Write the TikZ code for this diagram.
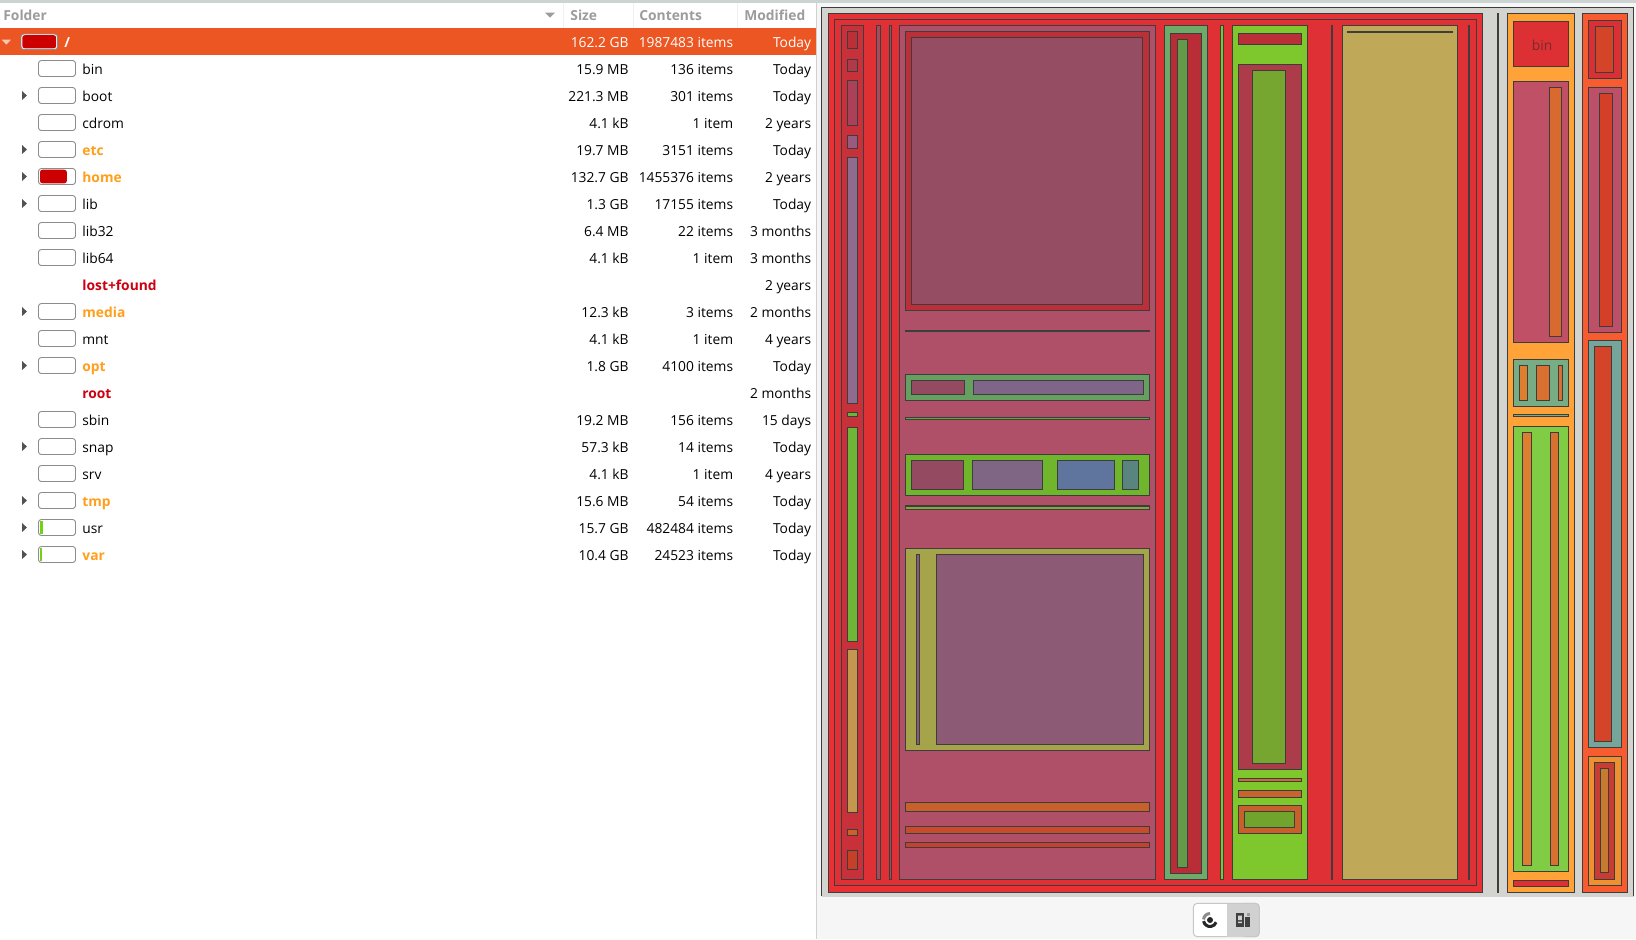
\documentclass[tikz,border=0pt]{standalone}
\usepackage{fontspec}
\setmainfont{Open Sans}
\usetikzlibrary{calc,positioning}
\definecolor{rulegray}{HTML}{3D3D3D}
\definecolor{headgray}{HTML}{9C9C9C}
\definecolor{rowsel}{HTML}{EB5623}
\definecolor{warnorange}{HTML}{FF9F1C}
\definecolor{denyred}{HTML}{CC0010}
\definecolor{barred}{HTML}{CC0000}
\definecolor{bargreen}{HTML}{73D216}
\definecolor{mapback}{HTML}{D3D4CF}
\definecolor{topedge}{HTML}{CBD3D3}
\begin{document}
\begin{tikzpicture}[x=0.5pt,y=-0.5pt,line join=miter,
 cell/.style={draw=rulegray,line width=0.55pt},
 barframe/.style={draw=gray!90,line width=0.45pt,fill=white,rounded corners=1.4pt},
 collabel/.style={anchor=base west,inner sep=0pt,text=headgray,font=\fontsize{6.9}{8}\selectfont\bfseries},
 fname/.style={anchor=base west,inner sep=0pt,font=\fontsize{6.9}{8}\selectfont},
 fwarn/.style={fname,text=warnorange,font=\fontsize{6.9}{8}\selectfont\bfseries},
 fdeny/.style={fname,text=denyred,font=\fontsize{6.9}{8}\selectfont\bfseries},
 fstat/.style={anchor=base east,inner sep=0pt,font=\fontsize{6.9}{8}\selectfont}]
\useasboundingbox (0,0) rectangle (1636,939);
\fill[white] (0,0) rectangle (817,939);
\fill[black!3.5] (817,0) rectangle (1636,939);
\fill[black!18] (817,0) -- (817,939) -- (816,939) -- (816,0) -- cycle;
\fill[topedge] (0,0) rectangle (1636,2.5);
\foreach \i in {563,633,737}{\draw[black!6,line width=0.5pt] (\i,3) -- (\i,28);}
\node[collabel] (headfolder) at (3,20) {Folder};
\node[collabel] (headsize) at (570,20) {Size};
\node[collabel] (headitems) at (639,20) {Contents};
\node[collabel] (headdate) at (744,20) {Modified};
\fill[headgray] (545,12.7) -- (555,12.7) -- (550,17.5) -- cycle;
\fill[rowsel] (0,28) rectangle (816,55);
\fill[white!65!rowsel] (1.7,39.7) -- (11,39.7) -- (6.3,44.6) -- cycle;
\draw[barframe] (21,34) rectangle (57.5,49.5);
\fill[barred,rounded corners=1.2pt] (22.3,35.2) rectangle (56.2,48.3);
\node[fwarn,text=white] (name0) at (64,47) {/};
\node[fstat,text=white] (size0) at (629,47) {162.2 GB};
\node[fstat,text=white] (items0) at (733.5,47) {1987483 items};
\node[fstat,text=white] (date0) at (811.5,47) {Today};
\foreach \i in {1,2,3,4,5,6,7,8,10,11,12,14,15,16,17,18,19}{\draw[barframe] (38.5,{33.5+27*\i}) rectangle (75.5,{49.5+27*\i});}
\foreach \i in {2,4,5,6,10,12,15,17,18,19}{\fill[black!68] (22,{36.8+27*\i}) -- (26.8,{41.5+27*\i}) -- (22,{46.2+27*\i}) -- cycle;}
\fill[barred,rounded corners=1.2pt] (40,{34.7+135}) rectangle (66.8,{48.3+135});
\fill[bargreen] (39.9,{34.9+27*18}) rectangle (43,{48.1+27*18});
\fill[bargreen] (39.9,{34.9+27*19}) rectangle (41.8,{48.1+27*19});
\foreach \i/\nm in {1/bin,2/boot,3/cdrom,6/lib,7/lib32,8/lib64,11/mnt,14/sbin,15/snap,16/srv,18/usr}{\node[fname] (name\i) at (82,{47+27*\i}) {\nm};}
\foreach \i/\nm in {4/etc,5/home,10/media,12/opt,17/tmp,19/var}{\node[fwarn] (name\i) at (82,{47+27*\i}) {\nm};}
\foreach \i/\nm in {9/lost+found,13/root}{\node[fdeny] (name\i) at (82,{47+27*\i}) {\nm};}
\foreach \i/\sz/\it/\md in {1/15.9 MB/136 items/Today,2/221.3 MB/301 items/Today,3/4.1 kB/1 item/2 years,4/19.7 MB/3151 items/Today,5/132.7 GB/1455376 items/2 years,6/1.3 GB/17155 items/Today,7/6.4 MB/22 items/3 months,8/4.1 kB/1 item/3 months,9///2 years,10/12.3 kB/3 items/2 months,11/4.1 kB/1 item/4 years,12/1.8 GB/4100 items/Today,13///2 months,14/19.2 MB/156 items/15 days,15/57.3 kB/14 items/Today,16/4.1 kB/1 item/4 years,17/15.6 MB/54 items/Today,18/15.7 GB/482484 items/Today,19/10.4 GB/24523 items/Today}{
\node[fstat] (size\i) at (629,{47+27*\i}) {\sz};
\node[fstat] (items\i) at (733.5,{47+27*\i}) {\it};
\node[fstat] (date\i) at (811.5,{47+27*\i}) {\md};}
\fill[mapback] (821.5,7.5) rectangle (1633.5,896.7);
\draw[rulegray,line width=0.55pt] (821.5,896) -- (821.5,7.5) -- (1633.5,7.5) -- (1633.5,896);
\foreach \xa/\ya/\xb/\yb/\col in {
828.3/13.3/1482.7/892.7/E93035,834.3/19.3/1476.7/885.3/DE3035,
841.3/25.3/863.7/879.3/C8303A,847.3/31.3/857.7/48.3/BA2F38,847.3/59.3/857.7/71.7/B0394A,847.3/80.3/857.7/125.7/AC4058,847.3/135.3/857.7/148.7/985A7E,847.3/157.3/857.7/403.3/8F6B8F,847.3/412.3/857.7/416.3/6DB334,847.3/427.3/857.7/641.3/6FB538,847.3/649.3/857.7/812.3/C4964E,847.3/829.3/857.7/835.7/CE5F2A,847.3/850.3/857.7/869.3/C63F26,
876.3/25.3/880.7/879.3/A84A5C,889.3/25.3/891.7/879.3/A84A5C,
899.3/25.3/1155.7/879.3/B05068,905.3/31.3/1149.7/310.7/BA2F38,911.3/37.3/1142.7/304.3/944D62,
905.3/330.4/1149.7/331.6/3D3D3D,
905.3/374.3/1149.7/400.7/66A060,911.3/380.3/964.7/394.7/944A60,973.3/380.3/1143.7/394.7/7F6688,
905.3/417.3/1149.7/419.7/60A83A,
905.3/454.3/1149.7/495.3/70B62C,911.3/460.3/963.7/489.7/944A60,972.3/460.3/1042.7/489.7/806685,1057.3/460.3/1114.7/489.7/60759E,1122.3/460.3/1138.7/489.7/5A8480,
905.3/506/1149.7/509.7/80A83A,
905.3/548.3/1149.7/750.7/A5A44A,916.3/554.3/919.7/744.7/8A5A78,936.3/554.3/1143.7/744.7/8C5A75,
905.3/802.3/1149.7/811.3/C8602C,905.3/826.3/1149.7/833.7/C84C2C,905.3/842.3/1149.7/847.3/C83F2C,
1164.3/25.3/1207.7/879.3/6EAA68,1170.3/33.3/1201.7/873.7/B82D36,1177.3/39.3/1187.7/867.3/65994A,
1220.3/25.3/1223.7/879.3/7CC830,
1232.3/25.3/1307.7/879.3/7EC82E,1238.3/33.3/1301.7/44.3/BA2F38,1238.3/64.3/1301.7/769.3/AC3C4A,1252.3/70.3/1285.7/763.3/76A630,1238.3/778.3/1301.7/781.7/C8702C,1238.3/790.3/1301.7/797.7/C8642C,1238.3/805.3/1301.7/833.3/C8602C,1244.3/811.3/1294.7/827.3/70A42C,
1331.2/25.3/1332.8/879.3/3D3D3D,
1342.3/25.3/1457.7/879.3/BFA858,1348/31.4/1452/32.6/3D3D3D,
1468.2/25.3/1469.8/879.3/3D3D3D,
1497.4/13.3/1498.6/892.7/3D3D3D,
1507.3/13.3/1574.7/892.7/FFA238,1513.3/21.3/1568.7/66.7/DD3035,1513.3/81.3/1568.7/342.3/C05065,1549.3/87.3/1561.7/336.7/D86A30,
1513.3/359.3/1568.7/406.7/78AC84,1519.3/365.3/1527.7/400.3/DC8030,1536.3/365.3/1549.7/400.3/D87030,1558.3/365.3/1562.7/400.3/D87030,
1513.3/414.3/1568.7/416.7/78AC84,
1513.3/426.3/1568.7/871.3/80CC44,1522.3/432.3/1531.7/865.7/DC8030,1550.3/432.3/1558.7/865.7/D87030,1513.3/880.3/1568.7/886.3/DD3035,
1582.3/13.3/1627.7/892.7/F75C30,1588.3/20.3/1621.7/78.7/D83035,1595.3/26.3/1613.7/72.3/D44428,1588.3/87.3/1621.7/332.3/BC5068,1599.3/93.3/1612.7/326.3/D43F28,
1588.3/340.3/1621.7/747.3/76A69A,1594.3/346.3/1611.7/741.7/D44428,1588.3/756.3/1621.7/885.3/EC9030,1594.3/762.3/1614.7/879.3/C83C34,1600.3/768.3/1608.7/872.3/C87A2E}{
\definecolor{cc}{HTML}{\col}
\draw[cell,fill=cc] (\xa,\ya) rectangle (\xb,\yb);}
\node[fname,text=rulegray!70!red,anchor=center] (binlabel) at (1542,45) {bin};
\filldraw[draw=black!22,fill=white,line width=0.5pt,rounded corners=2pt] (1193.3,903.3) rectangle (1259.3,936.7);
\filldraw[draw=black!22,fill=black!18,line width=0.5pt,rounded corners=2pt] (1240,903.3) rectangle (1259.3,936.7);
\fill[black!18] (1226.5,903.5) rectangle (1245,936.5);
\fill[black!85] (1210,920) circle (3);
\draw[black!45,line width=1.5pt] (1210,920) ++(185:6.5) arc[start angle=185,end angle=270,radius=6.5];
\draw[black!85,line width=1.5pt] (1210,920) ++(170:6.5) arc[start angle=170,end angle=20,radius=6.5];
\fill[black!75] (1236,913.3) rectangle (1244,926.7);
\fill[black!18] (1238.2,915.5) rectangle (1241.8,920) (1238.2,921.5) rectangle (1241.8,923);
\fill[black!75] (1245.3,917.3) rectangle (1250.3,926.7);
\fill[black!40] (1246.5,913.3) rectangle (1250.3,916.3);
\end{tikzpicture}
\end{document}
